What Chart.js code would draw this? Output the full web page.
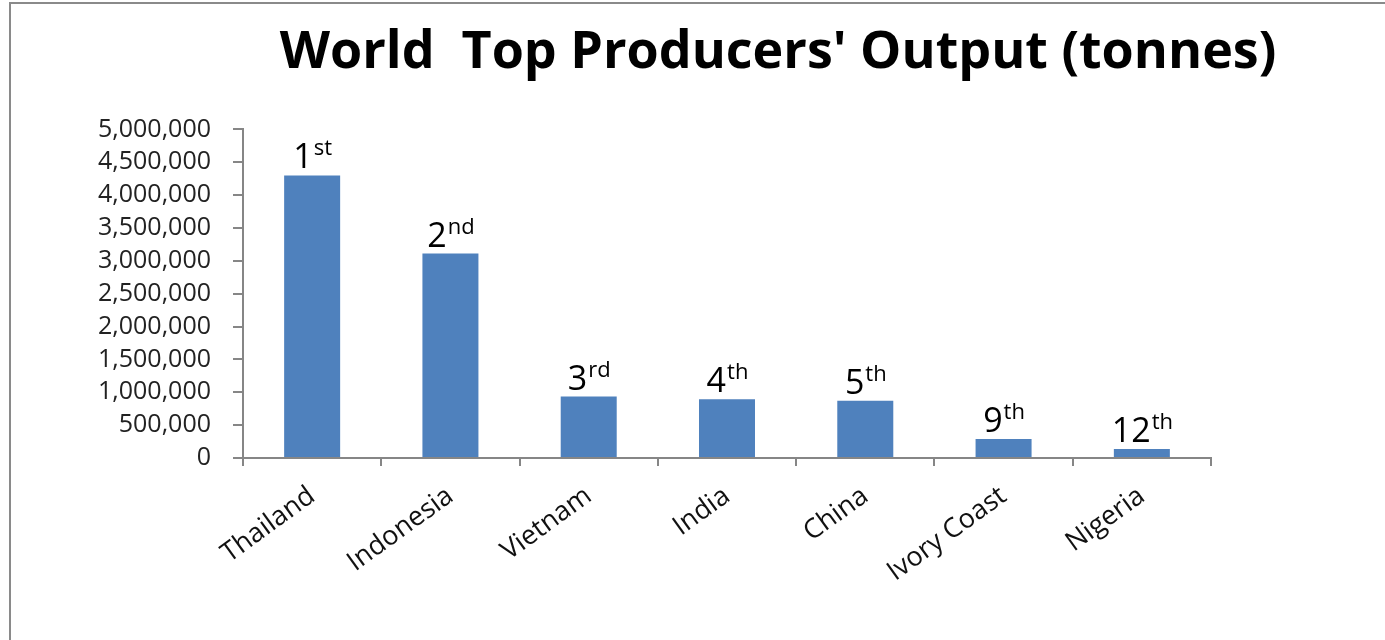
<!DOCTYPE html>
<html>
<head>
<meta charset="utf-8">
<script src="https://cdn.jsdelivr.net/npm/chart.js@4/dist/chart.umd.min.js"></script>
<style>
  html, body { margin: 0; padding: 0; background: #fff; overflow: hidden; }
  #frame {
    position: absolute; left: 9px; top: 2px;
    width: 1534px; height: 638px;
    border-left: 2px solid #8a8a8a; border-top: 2px solid #8a8a8a;
  }
</style>
</head>
<body>
<div id="frame"><canvas id="chart" width="1534" height="638"></canvas></div>
<script>
// Chart data
const categories = ['Thailand', 'Indonesia', 'Vietnam', 'India', 'China', 'Ivory Coast', 'Nigeria'];
const output = [4300000, 3110000, 935000, 895000, 873000, 290000, 137000];
const rankNumbers = ['1', '2', '3', '4', '5', '9', '12'];
const rankSuffixes = ['st', 'nd', 'rd', 'th', 'th', 'th', 'th'];
const yTicks = [0, 500000, 1000000, 1500000, 2000000, 2500000, 3000000, 3500000, 4000000, 4500000, 5000000];

const FONT = "'Open Sans', sans-serif";

// draws the rank labels ("1st", "2nd", ...) above each bar
const rankLabels = {
    id: 'rankLabels',
    afterDatasetsDraw(chart) {
        const ctx = chart.ctx;
        const bars = chart.getDatasetMeta(0).data;
        ctx.save();
        ctx.fillStyle = '#000';
        ctx.textBaseline = 'alphabetic';
        ctx.textAlign = 'left';
        bars.forEach((bar, i) => {
            ctx.font = '34px ' + FONT;
            const numW = ctx.measureText(rankNumbers[i]).width;
            ctx.font = '22px ' + FONT;
            const supW = ctx.measureText(rankSuffixes[i]).width;
            const x0 = bar.x - (numW + supW) / 2;
            const base = bar.y - 7;
            ctx.font = '34px ' + FONT;
            ctx.fillText(rankNumbers[i], x0, base);
            ctx.font = '22px ' + FONT;
            ctx.fillText(rankSuffixes[i], x0 + numW + 1, base - 13);
        });
        ctx.restore();
    }
};

const ctx = document.getElementById('chart').getContext('2d');
new Chart(ctx, {
    type: 'bar',
    data: {
        labels: categories,
        datasets: [{
            data: output,
            backgroundColor: '#4f81bd',
            categoryPercentage: 1,
            barPercentage: 0.405
        }]
    },
    options: {
        responsive: false,
        animation: false,
        layout: { padding: 0 },
        scales: {
            y: {
                min: 0,
                max: 5000000,
                afterBuildTicks: (scale) => { scale.ticks = yTicks.map(v => ({ value: v })); },
                afterFit: (scale) => { scale.width = 232; },
                border: { color: '#868686', width: 2 },
                grid: { drawOnChartArea: false, tickLength: 10, color: '#868686', lineWidth: 2 },
                ticks: {
                    autoSkip: false,
                    padding: 22,
                    color: '#222',
                    font: { family: FONT, size: 25 },
                    callback: (v) => Number(v).toLocaleString('en-US')
                }
            },
            // empty space on the right so the title centres over the whole frame
            spacer: {
                position: 'right',
                afterFit: (scale) => { scale.width = 334; },
                border: { display: false },
                grid: { display: false },
                ticks: { display: false }
            },
            x: {
                afterFit: (scale) => { scale.height = 184; },
                border: { color: '#868686', width: 2 },
                grid: { drawOnChartArea: false, offset: true, tickLength: 8, color: '#868686', lineWidth: 2 },
                ticks: {
                    minRotation: 36,
                    maxRotation: 36,
                    padding: 14,
                    color: '#111',
                    font: { family: FONT, size: 27 }
                }
            }
        },
        plugins: {
            legend: { display: false },
            tooltip: { enabled: false },
            title: {
                display: true,
                text: "World  Top Producers' Output (tonnes)",
                color: '#000',
                font: { family: FONT, size: 52, weight: 'bold', lineHeight: 1.2 },
                padding: { top: 18, bottom: 45 }
            }
        }
    },
    plugins: [rankLabels]
});
</script>
</body>
</html>
